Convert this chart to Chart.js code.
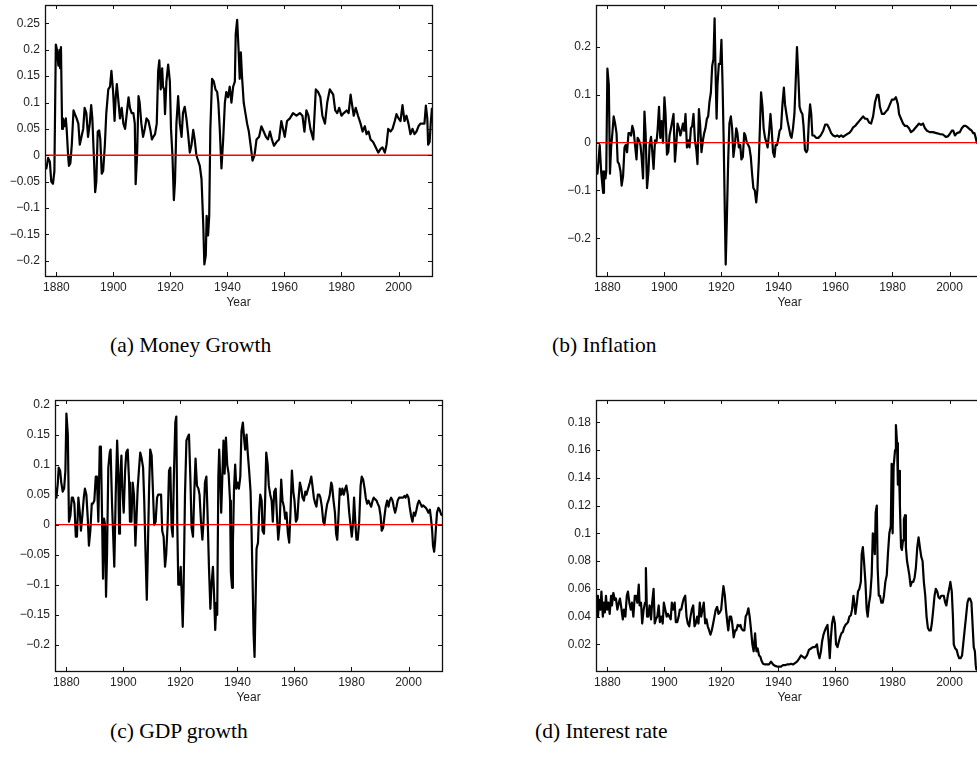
<!DOCTYPE html>
<html>
<head>
<meta charset="utf-8">
<script src="https://cdn.jsdelivr.net/npm/chart.js@4.4.1/dist/chart.umd.min.js"></script>
<style>
html,body{margin:0;padding:0;background:#fff;overflow:hidden;}
#wrap{position:relative;width:977px;height:758px;overflow:hidden;background:#fff;}
canvas{position:absolute;}
.cap{position:absolute;font-family:"Liberation Serif","Times New Roman",serif;font-size:21.5px;color:#000;white-space:nowrap;line-height:24px;}
</style>
</head>
<body>
<div id="wrap">
<canvas id="ca" width="450" height="310" style="left:0px;top:0px"></canvas>
<canvas id="cb" width="450" height="310" style="left:551px;top:0px"></canvas>
<canvas id="cc" width="460" height="310" style="left:0px;top:395px"></canvas>
<canvas id="cd" width="450" height="310" style="left:551px;top:395px"></canvas>
<div class="cap" style="left:110px;top:333px">(a) Money Growth</div>
<div class="cap" style="left:552px;top:333px">(b) Inflation</div>
<div class="cap" style="left:110px;top:719px">(c) GDP growth</div>
<div class="cap" style="left:535px;top:719px">(d) Interest rate</div>
</div>
<script>
// ---------- data: [year, value] ----------
const moneyGrowth = [[1876.0,-0.02],[1876.5,-0.025],[1877.1,-0.005],[1877.7,-0.012],[1878.2,-0.05],[1878.8,-0.054],[1879.3,-0.03],[1879.8,0.21],[1880.2,0.2],[1880.7,0.17],[1881.1,0.2],[1881.3,0.165],[1881.6,0.205],[1882.0,0.05],[1882.3,0.07],[1882.8,0.055],[1883.3,0.07],[1883.6,0.05],[1884.1,0.0],[1884.4,-0.02],[1884.9,-0.015],[1885.4,0.02],[1886.0,0.085],[1886.5,0.078],[1887.1,0.07],[1887.7,0.06],[1888.2,0.02],[1888.8,0.035],[1889.4,0.05],[1889.9,0.09],[1890.5,0.08],[1891.1,0.035],[1891.7,0.06],[1892.2,0.095],[1892.6,0.07],[1893.2,-0.01],[1893.6,-0.07],[1894.0,-0.05],[1894.5,0.045],[1895.0,0.047],[1895.4,0.03],[1895.9,-0.035],[1896.4,-0.03],[1897.0,0.02],[1897.5,0.08],[1898.2,0.125],[1898.8,0.13],[1899.3,0.16],[1899.9,0.12],[1900.4,0.065],[1900.8,0.11],[1901.2,0.135],[1901.8,0.1],[1902.3,0.07],[1902.9,0.09],[1903.5,0.06],[1904.1,0.05],[1904.7,0.08],[1905.3,0.11],[1905.8,0.09],[1906.4,0.08],[1907.0,0.08],[1907.5,0.06],[1907.8,-0.055],[1908.3,0.0],[1908.8,0.112],[1909.2,0.1],[1909.8,0.06],[1910.4,0.035],[1911.0,0.05],[1911.6,0.07],[1912.3,0.065],[1912.9,0.05],[1913.5,0.03],[1914.0,0.035],[1914.6,0.04],[1915.2,0.06],[1915.7,0.16],[1916.1,0.18],[1916.6,0.125],[1917.1,0.165],[1917.4,0.13],[1917.8,0.125],[1918.1,0.078],[1918.6,0.14],[1919.2,0.172],[1919.8,0.14],[1920.2,0.05],[1920.7,0.0],[1921.2,-0.085],[1921.6,-0.05],[1922.1,0.06],[1922.7,0.112],[1923.3,0.06],[1923.9,0.035],[1924.4,0.08],[1925.0,0.092],[1925.6,0.07],[1926.2,0.04],[1926.8,0.005],[1927.4,0.02],[1928.0,0.048],[1928.5,0.03],[1929.1,0.0],[1929.7,-0.01],[1930.3,-0.02],[1930.9,-0.045],[1931.5,-0.13],[1931.9,-0.207],[1932.4,-0.19],[1932.7,-0.115],[1933.2,-0.152],[1933.6,-0.115],[1934.0,0.05],[1934.6,0.145],[1935.2,0.14],[1935.8,0.125],[1936.4,0.12],[1936.8,0.1],[1937.3,0.05],[1937.9,-0.025],[1938.5,0.03],[1939.1,0.1],[1939.6,0.12],[1940.2,0.11],[1940.8,0.13],[1941.4,0.1],[1942.0,0.13],[1942.6,0.14],[1942.9,0.23],[1943.4,0.257],[1943.9,0.2],[1944.3,0.145],[1944.7,0.195],[1945.1,0.15],[1945.7,0.1],[1946.3,0.08],[1946.9,0.06],[1947.5,0.045],[1948.1,0.02],[1948.8,-0.01],[1949.5,0.0],[1950.2,0.03],[1951.1,0.035],[1951.9,0.055],[1952.7,0.045],[1953.5,0.035],[1954.2,0.03],[1954.9,0.045],[1955.6,0.03],[1956.3,0.018],[1957.2,0.025],[1958.1,0.03],[1958.9,0.065],[1959.5,0.05],[1960.1,0.035],[1960.9,0.065],[1961.9,0.07],[1963.0,0.08],[1964.2,0.075],[1965.4,0.08],[1966.3,0.075],[1967.0,0.045],[1967.7,0.085],[1968.4,0.075],[1969.1,0.05],[1970.1,0.03],[1971.0,0.125],[1971.8,0.12],[1972.6,0.11],[1973.3,0.075],[1974.2,0.06],[1975.0,0.1],[1975.9,0.125],[1977.1,0.115],[1977.8,0.085],[1978.5,0.08],[1979.2,0.09],[1980.0,0.075],[1980.8,0.08],[1981.8,0.085],[1982.5,0.08],[1983.2,0.115],[1983.6,0.1],[1984.3,0.075],[1985.0,0.09],[1985.8,0.075],[1986.7,0.06],[1987.4,0.045],[1988.2,0.055],[1988.8,0.04],[1989.5,0.045],[1990.2,0.03],[1991.1,0.025],[1992.0,0.015],[1992.9,0.005],[1993.7,0.012],[1994.4,0.015],[1995.2,0.005],[1995.8,0.02],[1996.4,0.05],[1997.2,0.045],[1997.9,0.05],[1998.7,0.065],[1999.3,0.078],[2000.0,0.07],[2000.7,0.065],[2001.4,0.095],[2002.1,0.065],[2002.8,0.075],[2003.5,0.06],[2004.2,0.04],[2004.9,0.05],[2005.6,0.04],[2006.3,0.045],[2007.0,0.055],[2007.7,0.06],[2008.4,0.06],[2009.1,0.06],[2009.6,0.094],[2010.1,0.07],[2010.4,0.02],[2010.9,0.025],[2011.3,0.06],[2011.75,0.09]];

const inflation = [[1876.1,-0.06],[1876.5,-0.065],[1877.0,-0.03],[1877.3,-0.005],[1877.8,-0.06],[1878.1,-0.08],[1878.5,-0.105],[1878.8,-0.06],[1879.3,-0.075],[1879.6,-0.06],[1880.0,0.155],[1880.5,0.12],[1880.9,-0.065],[1881.3,-0.01],[1881.75,0.02],[1882.2,0.055],[1882.7,0.04],[1883.2,0.02],[1883.6,-0.04],[1884.1,-0.045],[1884.6,-0.06],[1885.0,-0.09],[1885.5,-0.07],[1886.0,-0.01],[1886.4,-0.005],[1886.9,-0.02],[1887.4,0.02],[1887.8,0.02],[1888.3,0.015],[1888.75,0.035],[1889.2,0.025],[1889.7,-0.005],[1890.2,-0.035],[1890.6,0.01],[1891.1,0.005],[1891.6,-0.005],[1892.0,-0.03],[1892.5,-0.075],[1893.0,0.065],[1893.4,0.02],[1893.9,-0.095],[1894.4,-0.06],[1894.8,-0.005],[1895.3,0.012],[1895.75,-0.02],[1896.2,-0.055],[1896.7,0.005],[1897.2,0.0],[1897.6,0.025],[1898.1,0.075],[1898.55,0.01],[1899.0,0.045],[1899.5,0.0],[1900.0,0.095],[1900.4,0.06],[1900.9,-0.025],[1901.35,-0.02],[1901.8,0.015],[1902.3,0.03],[1902.75,0.045],[1903.2,0.06],[1903.7,-0.04],[1904.2,0.0],[1904.6,0.04],[1905.1,0.03],[1905.6,0.015],[1906.0,0.025],[1906.5,0.04],[1906.95,0.025],[1907.4,0.06],[1907.9,-0.01],[1908.4,0.005],[1908.8,-0.01],[1909.3,0.03],[1909.75,0.035],[1910.2,0.06],[1910.7,0.005],[1911.2,-0.015],[1911.6,-0.045],[1912.1,0.07],[1912.55,0.035],[1913.0,-0.02],[1913.5,0.005],[1913.95,0.02],[1914.4,0.03],[1914.9,0.05],[1915.35,0.055],[1915.8,0.085],[1916.3,0.105],[1916.75,0.16],[1917.2,0.175],[1917.6,0.26],[1917.9,0.16],[1918.3,0.05],[1918.6,0.12],[1919.1,0.165],[1919.6,0.165],[1920.0,0.215],[1920.4,0.12],[1920.8,0.0],[1921.2,-0.15],[1921.5,-0.255],[1921.9,-0.16],[1922.4,-0.03],[1922.8,0.04],[1923.3,0.055],[1923.75,0.03],[1924.2,-0.03],[1924.7,-0.005],[1925.2,0.03],[1925.6,0.02],[1926.1,-0.01],[1926.6,-0.005],[1927.0,-0.035],[1927.5,-0.03],[1928.0,0.02],[1928.4,0.015],[1928.9,0.0],[1929.4,-0.005],[1929.8,-0.01],[1930.3,-0.03],[1930.75,-0.065],[1931.2,-0.095],[1931.7,-0.1],[1932.2,-0.125],[1932.6,-0.1],[1933.1,-0.04],[1933.6,0.05],[1933.9,0.105],[1934.4,0.075],[1934.8,0.03],[1935.3,0.01],[1935.8,0.0],[1936.2,-0.01],[1936.7,0.02],[1937.2,0.06],[1937.6,0.03],[1938.1,-0.02],[1938.6,-0.03],[1939.0,-0.005],[1939.5,-0.005],[1940.0,0.01],[1940.4,0.025],[1940.9,0.03],[1941.4,0.08],[1941.9,0.115],[1942.3,0.08],[1942.8,0.06],[1943.2,0.045],[1943.7,0.03],[1944.2,0.015],[1944.6,0.01],[1945.1,0.03],[1945.6,0.06],[1946.0,0.12],[1946.5,0.2],[1947.0,0.135],[1947.4,0.075],[1947.9,0.065],[1948.4,0.06],[1948.8,0.035],[1949.3,-0.015],[1949.8,-0.02],[1950.2,-0.015],[1950.7,0.05],[1951.1,0.08],[1951.5,0.06],[1951.9,0.015],[1952.5,0.015],[1953.2,0.01],[1954.0,0.01],[1954.8,0.015],[1955.7,0.025],[1956.4,0.038],[1957.1,0.038],[1957.8,0.03],[1958.5,0.02],[1959.2,0.015],[1959.9,0.013],[1960.6,0.015],[1961.3,0.012],[1962.0,0.015],[1962.7,0.012],[1963.4,0.015],[1964.1,0.018],[1964.8,0.02],[1965.5,0.025],[1966.2,0.032],[1966.9,0.035],[1967.6,0.04],[1968.3,0.045],[1969.0,0.05],[1969.7,0.055],[1970.4,0.05],[1971.1,0.05],[1971.8,0.042],[1972.5,0.04],[1973.2,0.055],[1973.9,0.085],[1974.6,0.1],[1975.1,0.1],[1975.6,0.075],[1976.3,0.06],[1977.0,0.06],[1977.7,0.065],[1978.4,0.07],[1979.1,0.08],[1979.8,0.09],[1980.5,0.09],[1981.2,0.095],[1981.9,0.08],[1982.3,0.06],[1983.0,0.05],[1983.7,0.04],[1984.4,0.035],[1985.1,0.035],[1985.8,0.03],[1986.5,0.022],[1987.2,0.025],[1987.9,0.03],[1988.6,0.035],[1989.3,0.04],[1990.0,0.037],[1990.7,0.04],[1991.4,0.03],[1992.1,0.025],[1993.1,0.022],[1994.2,0.022],[1995.4,0.02],[1996.6,0.018],[1997.7,0.017],[1998.7,0.012],[1999.4,0.013],[2000.1,0.018],[2000.8,0.025],[2001.3,0.025],[2001.9,0.015],[2002.6,0.02],[2003.6,0.022],[2004.3,0.03],[2005.0,0.035],[2005.7,0.035],[2006.4,0.032],[2007.1,0.028],[2007.8,0.025],[2008.3,0.02],[2008.75,0.02],[2009.2,0.01],[2009.6,0.0],[2010.2,0.01],[2011.0,0.02],[2011.75,0.025]];

const gdpGrowth = [[1875.9,0.065],[1876.5,0.045],[1877.0,0.07],[1877.3,0.095],[1877.8,0.09],[1878.2,0.07],[1878.7,0.055],[1879.2,0.06],[1879.65,0.09],[1880.0,0.185],[1880.5,0.15],[1880.9,0.005],[1881.4,0.015],[1881.9,0.045],[1882.3,0.045],[1882.8,0.035],[1883.3,-0.02],[1883.7,-0.02],[1884.2,0.045],[1884.7,0.02],[1885.1,-0.01],[1885.6,0.015],[1886.1,0.045],[1886.5,0.06],[1887.0,0.05],[1887.5,0.01],[1887.9,-0.035],[1888.4,-0.01],[1888.9,0.035],[1889.3,0.035],[1889.8,0.04],[1890.3,0.08],[1890.7,0.08],[1891.2,0.005],[1891.7,0.13],[1892.1,0.13],[1892.5,0.015],[1892.85,-0.09],[1893.2,0.01],[1893.55,0.0],[1893.9,-0.12],[1894.25,-0.05],[1894.7,0.095],[1895.2,0.12],[1895.5,0.125],[1896.0,0.035],[1896.5,-0.03],[1896.8,-0.07],[1897.3,0.05],[1897.8,0.14],[1898.1,0.1],[1898.5,-0.015],[1898.8,0.07],[1899.3,0.115],[1899.6,0.06],[1900.1,0.02],[1900.6,0.09],[1901.0,0.12],[1901.5,0.125],[1902.0,0.07],[1902.3,0.005],[1902.8,0.005],[1903.25,0.07],[1903.7,0.05],[1904.2,-0.035],[1904.5,0.0],[1905.0,0.06],[1905.5,0.095],[1905.9,0.12],[1906.4,0.11],[1906.9,0.095],[1907.3,0.04],[1907.8,-0.055],[1908.2,-0.125],[1908.5,-0.06],[1909.0,0.06],[1909.4,0.125],[1909.9,0.115],[1910.4,0.05],[1910.8,0.0],[1911.3,0.005],[1911.8,0.045],[1912.2,0.05],[1912.7,0.05],[1913.2,0.05],[1913.6,-0.01],[1914.1,-0.02],[1914.6,-0.07],[1915.0,-0.05],[1915.5,0.0],[1916.0,0.09],[1916.45,0.095],[1916.9,-0.005],[1917.3,-0.02],[1917.7,0.08],[1918.2,0.17],[1918.55,0.18],[1918.9,0.0],[1919.25,-0.1],[1919.7,-0.1],[1920.1,-0.07],[1920.4,-0.11],[1920.8,-0.17],[1921.1,-0.11],[1921.6,0.05],[1922.1,0.14],[1922.5,0.145],[1923.0,0.15],[1923.5,0.075],[1923.9,-0.005],[1924.4,-0.02],[1924.9,0.06],[1925.3,0.11],[1925.8,0.065],[1926.3,0.06],[1926.7,0.05],[1927.2,0.005],[1927.7,-0.025],[1928.1,0.005],[1928.6,0.07],[1929.1,0.08],[1929.5,0.02],[1930.0,-0.07],[1930.5,-0.14],[1930.9,-0.1],[1931.4,-0.07],[1931.75,-0.11],[1932.2,-0.175],[1932.6,-0.13],[1932.9,-0.15],[1933.3,0.08],[1933.6,0.125],[1934.0,0.07],[1934.3,0.02],[1934.7,0.08],[1935.1,0.14],[1935.5,0.085],[1935.96,0.145],[1936.4,0.1],[1936.9,0.085],[1937.4,0.04],[1937.7,-0.08],[1938.1,-0.105],[1938.4,-0.03],[1938.8,0.06],[1939.2,0.1],[1939.6,0.06],[1940.05,0.07],[1940.5,0.06],[1941.0,0.08],[1941.4,0.155],[1941.9,0.17],[1942.4,0.14],[1942.7,0.125],[1943.2,0.15],[1943.6,0.12],[1944.1,0.09],[1944.6,0.055],[1944.95,-0.01],[1945.3,-0.09],[1945.65,-0.18],[1946.0,-0.22],[1946.35,-0.13],[1946.7,-0.04],[1947.2,-0.03],[1947.6,0.02],[1948.0,0.05],[1948.5,0.04],[1948.8,-0.01],[1949.3,-0.015],[1949.7,0.04],[1950.1,0.12],[1950.6,0.1],[1951.0,0.065],[1951.5,0.05],[1952.0,0.04],[1952.4,0.005],[1952.9,0.055],[1953.4,0.06],[1953.8,0.02],[1954.3,-0.025],[1954.8,0.0],[1955.35,0.075],[1955.8,0.04],[1956.3,0.03],[1956.75,0.01],[1957.2,0.02],[1957.7,-0.015],[1958.15,-0.03],[1958.6,0.02],[1959.1,0.09],[1959.6,0.055],[1960.0,0.04],[1960.5,0.005],[1961.0,0.01],[1961.4,0.04],[1961.9,0.07],[1962.4,0.06],[1962.8,0.045],[1963.3,0.04],[1963.8,0.055],[1964.2,0.05],[1964.8,0.06],[1965.4,0.07],[1965.9,0.08],[1966.3,0.065],[1966.8,0.045],[1967.3,0.035],[1967.7,0.03],[1968.2,0.05],[1968.7,0.05],[1969.1,0.045],[1969.6,0.03],[1970.1,0.005],[1970.5,0.0],[1971.0,0.02],[1971.5,0.035],[1971.9,0.04],[1972.4,0.05],[1972.9,0.07],[1973.2,0.065],[1973.7,0.04],[1974.2,0.02],[1974.6,-0.015],[1975.0,-0.025],[1975.4,0.01],[1975.9,0.06],[1976.4,0.05],[1976.8,0.06],[1977.3,0.05],[1977.8,0.06],[1978.2,0.065],[1978.7,0.05],[1979.2,0.02],[1979.65,0.0],[1980.1,-0.02],[1980.5,0.0],[1980.9,0.045],[1981.4,0.0],[1981.75,-0.025],[1982.2,-0.025],[1982.7,0.005],[1983.2,0.065],[1983.6,0.08],[1984.1,0.075],[1984.6,0.06],[1985.0,0.045],[1985.5,0.035],[1986.0,0.04],[1986.4,0.035],[1986.9,0.03],[1987.4,0.04],[1987.8,0.045],[1988.3,0.042],[1988.8,0.04],[1989.2,0.035],[1989.7,0.03],[1990.2,0.015],[1990.6,-0.01],[1991.1,-0.005],[1991.6,0.015],[1992.0,0.03],[1992.5,0.04],[1993.0,0.03],[1993.4,0.04],[1993.9,0.045],[1994.4,0.04],[1994.8,0.03],[1995.3,0.02],[1995.8,0.03],[1996.2,0.04],[1996.7,0.045],[1997.2,0.045],[1997.6,0.045],[1998.1,0.045],[1998.6,0.048],[1999.0,0.045],[1999.5,0.05],[2000.0,0.045],[2000.4,0.03],[2000.9,0.015],[2001.4,0.005],[2001.85,0.02],[2002.3,0.015],[2002.8,0.025],[2003.25,0.035],[2003.7,0.04],[2004.2,0.035],[2004.7,0.03],[2005.1,0.032],[2005.6,0.03],[2006.1,0.028],[2006.5,0.025],[2007.0,0.02],[2007.5,0.025],[2007.9,0.01],[2008.3,-0.01],[2008.6,-0.035],[2009.0,-0.045],[2009.3,-0.03],[2009.7,0.0],[2010.0,0.02],[2010.5,0.028],[2010.9,0.025],[2011.4,0.018],[2011.75,0.015]];

const interestRate = [[1876.15,0.04],[1876.4,0.055],[1876.7,0.04],[1877.1,0.052],[1877.55,0.045],[1877.9,0.058],[1878.4,0.04],[1878.7,0.05],[1879.1,0.043],[1879.5,0.055],[1879.9,0.045],[1880.35,0.05],[1880.8,0.042],[1881.3,0.055],[1881.6,0.048],[1882.1,0.057],[1882.6,0.052],[1883.0,0.053],[1883.5,0.045],[1884.0,0.05],[1884.4,0.053],[1884.9,0.046],[1885.4,0.038],[1885.8,0.045],[1886.3,0.04],[1886.8,0.055],[1887.2,0.058],[1887.7,0.05],[1888.2,0.045],[1888.6,0.05],[1889.1,0.04],[1889.6,0.055],[1890.0,0.055],[1890.5,0.05],[1891.0,0.063],[1891.3,0.048],[1891.8,0.05],[1892.2,0.035],[1892.7,0.045],[1893.2,0.05],[1893.5,0.075],[1893.9,0.04],[1894.3,0.04],[1894.8,0.048],[1895.3,0.038],[1895.7,0.05],[1896.2,0.06],[1896.6,0.035],[1897.0,0.038],[1897.5,0.04],[1898.0,0.048],[1898.4,0.036],[1898.9,0.04],[1899.4,0.035],[1899.8,0.05],[1900.3,0.045],[1900.8,0.04],[1901.2,0.042],[1901.7,0.04],[1902.2,0.038],[1902.6,0.05],[1903.1,0.045],[1903.6,0.05],[1904.0,0.036],[1904.5,0.036],[1905.0,0.04],[1905.4,0.045],[1905.9,0.045],[1906.4,0.05],[1906.8,0.053],[1907.3,0.055],[1907.75,0.04],[1908.2,0.035],[1908.7,0.033],[1909.15,0.04],[1909.6,0.045],[1910.1,0.048],[1910.55,0.033],[1911.0,0.035],[1911.5,0.04],[1911.95,0.035],[1912.4,0.05],[1912.9,0.04],[1913.35,0.045],[1913.8,0.05],[1914.3,0.035],[1914.75,0.038],[1915.2,0.033],[1915.7,0.03],[1916.15,0.027],[1916.6,0.03],[1917.1,0.035],[1917.55,0.04],[1918.0,0.045],[1918.5,0.047],[1918.95,0.042],[1919.4,0.043],[1919.9,0.045],[1920.35,0.055],[1920.7,0.062],[1921.2,0.055],[1921.6,0.045],[1922.1,0.035],[1922.4,0.03],[1922.9,0.04],[1923.4,0.04],[1923.8,0.035],[1924.3,0.025],[1924.8,0.03],[1925.2,0.03],[1925.7,0.034],[1926.2,0.033],[1926.65,0.034],[1927.1,0.031],[1927.6,0.03],[1928.05,0.03],[1928.5,0.04],[1929.0,0.042],[1929.45,0.046],[1929.9,0.04],[1930.4,0.03],[1930.85,0.02],[1931.3,0.015],[1931.8,0.028],[1932.25,0.015],[1932.7,0.017],[1933.2,0.012],[1933.65,0.011],[1934.1,0.008],[1934.6,0.006],[1935.3,0.0055],[1936.0,0.0055],[1936.7,0.0055],[1937.4,0.0075],[1938.1,0.0055],[1938.8,0.0045],[1939.5,0.004],[1940.2,0.004],[1940.9,0.004],[1941.6,0.005],[1942.3,0.005],[1943.0,0.0055],[1943.7,0.0055],[1944.4,0.006],[1945.1,0.0055],[1945.8,0.0065],[1946.5,0.0075],[1947.2,0.0095],[1947.9,0.012],[1948.6,0.011],[1949.3,0.01],[1950.0,0.012],[1950.7,0.016],[1951.4,0.017],[1952.1,0.018],[1952.8,0.018],[1953.5,0.02],[1953.9,0.014],[1954.4,0.01],[1954.9,0.015],[1955.3,0.022],[1955.8,0.027],[1956.3,0.03],[1956.7,0.032],[1957.2,0.034],[1957.7,0.02],[1958.0,0.01],[1958.4,0.025],[1958.8,0.035],[1959.3,0.04],[1959.8,0.035],[1960.2,0.02],[1960.7,0.018],[1961.2,0.022],[1961.6,0.025],[1962.1,0.028],[1962.6,0.029],[1963.0,0.032],[1963.5,0.034],[1964.0,0.035],[1964.4,0.036],[1964.9,0.04],[1965.4,0.041],[1965.8,0.045],[1966.3,0.055],[1966.6,0.05],[1967.0,0.042],[1967.5,0.05],[1967.9,0.058],[1968.4,0.06],[1968.9,0.065],[1969.2,0.085],[1969.6,0.09],[1970.0,0.08],[1970.5,0.065],[1970.95,0.045],[1971.3,0.04],[1971.8,0.05],[1972.2,0.055],[1972.7,0.07],[1973.1,0.1],[1973.4,0.098],[1973.8,0.085],[1974.1,0.115],[1974.5,0.12],[1974.8,0.075],[1975.2,0.055],[1975.6,0.055],[1976.1,0.05],[1976.6,0.05],[1977.0,0.055],[1977.5,0.065],[1978.0,0.07],[1978.4,0.085],[1978.9,0.1],[1979.4,0.105],[1979.7,0.15],[1980.05,0.1],[1980.4,0.148],[1980.9,0.16],[1981.2,0.178],[1981.6,0.165],[1981.9,0.135],[1982.3,0.145],[1982.6,0.12],[1983.0,0.09],[1983.3,0.088],[1983.7,0.095],[1984.0,0.11],[1984.4,0.113],[1984.7,0.09],[1985.1,0.08],[1985.4,0.08],[1985.9,0.07],[1986.35,0.062],[1986.8,0.065],[1987.3,0.065],[1987.75,0.068],[1988.2,0.075],[1988.7,0.09],[1989.15,0.097],[1989.6,0.09],[1990.1,0.083],[1990.55,0.08],[1991.0,0.065],[1991.5,0.055],[1991.95,0.04],[1992.4,0.032],[1992.9,0.03],[1993.4,0.03],[1993.8,0.035],[1994.3,0.045],[1994.75,0.055],[1995.2,0.06],[1995.7,0.058],[1996.15,0.054],[1996.6,0.053],[1997.1,0.055],[1997.55,0.055],[1998.0,0.055],[1998.5,0.05],[1998.9,0.048],[1999.4,0.055],[1999.9,0.06],[2000.3,0.065],[2000.8,0.058],[2001.2,0.04],[2001.5,0.02],[2002.0,0.017],[2002.5,0.016],[2003.0,0.012],[2003.4,0.01],[2003.9,0.01],[2004.4,0.012],[2004.8,0.02],[2005.3,0.03],[2005.8,0.04],[2006.3,0.05],[2006.75,0.053],[2007.2,0.053],[2007.7,0.05],[2008.2,0.03],[2008.5,0.018],[2008.9,0.015],[2009.2,0.005],[2009.4,0.002],[2010.0,0.0012],[2011.75,0.0012]];

// ---------- axes ----------
const yearRange = [1876, 2011.75];
const yearTicks = [1880, 1900, 1920, 1940, 1960, 1980, 2000];
const moneyYTicks = [-0.2, -0.15, -0.1, -0.05, 0, 0.05, 0.1, 0.15, 0.2, 0.25];
const moneyYRange = [-0.229, 0.285];
const inflationYTicks = [-0.2, -0.1, 0, 0.1, 0.2];
const inflationYRange = [-0.279, 0.288];
const gdpYTicks = [-0.2, -0.15, -0.1, -0.05, 0, 0.05, 0.1, 0.15, 0.2];
const gdpYRange = [-0.2435, 0.2075];
const rateYTicks = [0.02, 0.04, 0.06, 0.08, 0.1, 0.12, 0.14, 0.16, 0.18];
const rateYRange = [0.0008, 0.196];

function fmt(v){
  let s = String(Math.round(v*1000)/1000);
  return s.replace('-', '\u2212');
}

const matlabFrame = {
  id: 'matlabFrame',
  afterDraw(chart){
    const ctx = chart.ctx;
    const a = chart.chartArea;
    const xs = chart.scales.x, ys = chart.scales.y;
    const L = 4;
    ctx.save();
    ctx.strokeStyle = '#111';
    ctx.lineWidth = 1;
    ctx.beginPath();
    xs.ticks.forEach(t => {
      const p = Math.round(xs.getPixelForValue(t.value)) + 0.5;
      ctx.moveTo(p, a.bottom); ctx.lineTo(p, a.bottom - L);
      ctx.moveTo(p, a.top); ctx.lineTo(p, a.top + L);
    });
    ys.ticks.forEach(t => {
      const p = Math.round(ys.getPixelForValue(t.value)) + 0.5;
      ctx.moveTo(a.left, p); ctx.lineTo(a.left + L, p);
      ctx.moveTo(a.right, p); ctx.lineTo(a.right - L, p);
    });
    ctx.stroke();
    ctx.lineWidth = 1.3;
    ctx.strokeRect(Math.round(a.left)+0.5, Math.round(a.top)+0.5, Math.round(a.right-a.left), Math.round(a.bottom-a.top));
    ctx.restore();
  }
};

function makePanel(id, series, yTicks, yRange, yAxisWidth, zeroLine){
  const datasets = [{
    data: series.map(([x, y]) => ({x, y})),
    borderColor: '#000',
    borderWidth: 2.2,
    pointRadius: 0,
    tension: 0,
    borderJoinStyle: 'round',
    order: 2
  }];
  if (zeroLine){
    datasets.push({
      data: [{x: yearRange[0], y: 0}, {x: yearRange[1], y: 0}],
      borderColor: '#ff0000',
      borderWidth: 1.3,
      pointRadius: 0,
      order: 1
    });
  }
  const canvas = document.getElementById(id);
  new Chart(canvas, {
    type: 'line',
    data: { datasets },
    plugins: [matlabFrame],
    options: {
      responsive: false,
      animation: false,
      devicePixelRatio: 1,
      parsing: false,
      normalized: true,
      layout: { padding: { left: 0, top: 5, right: 18, bottom: 0 } },
      plugins: { legend: { display: false }, tooltip: { enabled: false } },
      scales: {
        x: {
          type: 'linear',
          min: yearRange[0], max: yearRange[1],
          grid: { display: false, drawTicks: false },
          border: { display: false },
          afterBuildTicks: s => { s.ticks = yearTicks.map(v => ({value: v})); },
          afterFit: s => { s.height = 34; s.paddingLeft = 0; s.paddingRight = 0; },
          ticks: {
            autoSkip: false, maxRotation: 0, padding: 4, color: '#222',
            font: { family: 'Liberation Sans, Arial, sans-serif', size: 12 },
            callback: v => String(v)
          },
          title: {
            display: true, text: 'Year', color: '#222',
            font: { family: 'Liberation Sans, Arial, sans-serif', size: 12 },
            padding: { top: 0, bottom: 0 }
          }
        },
        y: {
          type: 'linear',
          min: yRange[0], max: yRange[1],
          grid: { display: false, drawTicks: false },
          border: { display: false },
          afterBuildTicks: s => { s.ticks = yTicks.map(v => ({value: v})); },
          afterFit: s => { s.width = yAxisWidth; s.paddingTop = 0; s.paddingBottom = 0; },
          ticks: {
            autoSkip: false, padding: 5, color: '#222',
            font: { family: 'Liberation Sans, Arial, sans-serif', size: 12 },
            callback: v => fmt(v)
          }
        }
      }
    }
  });
}

makePanel('ca', moneyGrowth, moneyYTicks, moneyYRange, 45, true);
makePanel('cb', inflation, inflationYTicks, inflationYRange, 45, true);
makePanel('cc', gdpGrowth, gdpYTicks, gdpYRange, 55, true);
makePanel('cd', interestRate, rateYTicks, rateYRange, 45, false);
</script>
</body>
</html>
